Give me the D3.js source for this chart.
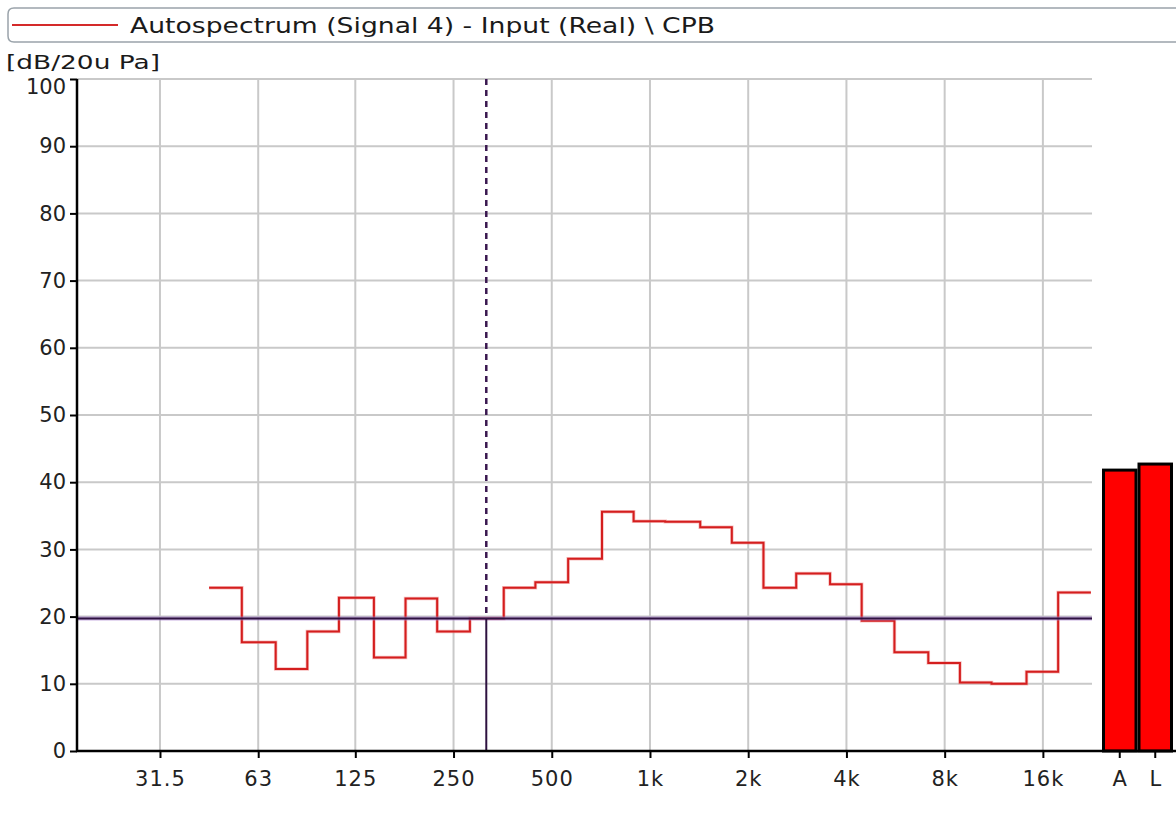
<!DOCTYPE html>
<html><head><meta charset="utf-8">
<script src="https://cdn.jsdelivr.net/npm/d3@7"></script>
<style>html,body{margin:0;padding:0;background:#fff;}svg{display:block;}</style>
</head><body>
<script>
// ---- data ----
const bandCenters = [50,63,80,100,125,160,200,250,315,400,500,630,800,1000,1250,1600,2000,2500,3150,4000,5000,6300,8000,10000,12500,16000,20000];
const levels = [24.3,16.2,12.2,17.8,22.8,13.9,22.7,17.8,19.7,24.3,25.1,28.6,35.6,34.2,34.1,33.3,31.0,24.3,26.4,24.8,19.4,14.7,13.1,10.2,10.0,11.8,23.6];
const xTickFreqs = [31.5,63,125,250,500,1000,2000,4000,8000,16000];
const xTickLabels = ["31.5","63","125","250","500","1k","2k","4k","8k","16k"];
const yTicks = [0,10,20,30,40,50,60,70,80,90,100];
const overallLabels = ["A","L"];
const overallLevels = [41.8,42.7];
const cursorFreq = 315;
const cursorLevel = 19.7;
const legendText = "Autospectrum (Signal 4) - Input (Real) \\ CPB";
const unitLabel = "[dB/20u Pa]";

// ---- layout ----
const W = 1176, H = 816;
const L = 77, R = 1092, T = 79, B = 751;
const FONT = "DejaVu Sans";

const svg = d3.select("body").append("svg").attr("width", W).attr("height", H);

const third = Math.pow(2, 1/6);
const x = d3.scaleLog().domain([1000*Math.pow(2,-17/3)/third, 1000*Math.pow(2,13/3)*third]).range([L, R]);
const y = d3.scaleLinear().domain([0,100]).range([B, T]);
const xo = d3.scaleBand().domain(overallLabels).range([1102, 1173]).paddingInner(0);

// legend box
svg.append("path")
  .attr("d", `M${W+5},8 H14 Q8,8 8,14 V36 Q8,42 14,42 H${W+5}`)
  .attr("fill", "#fff").attr("stroke", "#9aa3aa").attr("stroke-width", 1.5);
svg.append("line").attr("x1", 12).attr("x2", 118).attr("y1", 25).attr("y2", 25)
  .attr("stroke", "#d42a2a").attr("stroke-width", 2);
svg.append("text").attr("x", 130).attr("y", 33).attr("font-family", FONT).attr("font-size", 21)
  .attr("fill", "#1a1a1a").attr("textLength", 585).attr("lengthAdjust", "spacingAndGlyphs").text(legendText);

// unit label
svg.append("text").attr("x", 6).attr("y", 69).attr("font-family", FONT).attr("font-size", 20)
  .attr("fill", "#1a1a1a").attr("textLength", 154).attr("lengthAdjust", "spacingAndGlyphs").text(unitLabel);

// grid
const grid = svg.append("g");
grid.selectAll("line.h").data(yTicks.filter(d => d > 0)).join("line")
  .attr("x1", L).attr("x2", R).attr("y1", d => y(d)).attr("y2", d => y(d))
  .attr("stroke", "#c9c9c9").attr("stroke-width", 2);
grid.selectAll("line.v").data(xTickFreqs).join("line")
  .attr("x1", d => x(d)).attr("x2", d => x(d)).attr("y1", T).attr("y2", B)
  .attr("stroke", "#c9c9c9").attr("stroke-width", 2);

// spectrum step line
const pts = bandCenters.map((f, i) => [x(f / third), y(levels[i])]);
pts.push([x(bandCenters[bandCenters.length-1] * third), y(levels[levels.length-1])]);
svg.append("path").attr("d", d3.line().curve(d3.curveStepAfter)(pts))
  .attr("fill", "none").attr("stroke", "#f08080").attr("stroke-width", 3.5).attr("opacity", 0.5);
svg.append("path").attr("d", d3.line().curve(d3.curveStepAfter)(pts))
  .attr("fill", "none").attr("stroke", "#d41e1e").attr("stroke-width", 2);

// cursor
const cx = x(cursorFreq), cy = y(cursorLevel);
svg.append("line").attr("x1", L).attr("x2", R).attr("y1", cy).attr("y2", cy)
  .attr("stroke", "#a880d0").attr("stroke-width", 4).attr("opacity", 0.6);
svg.append("line").attr("x1", L).attr("x2", R).attr("y1", cy).attr("y2", cy)
  .attr("stroke", "#2e1240").attr("stroke-width", 2);
svg.append("line").attr("x1", cx).attr("x2", cx).attr("y1", cy).attr("y2", B)
  .attr("stroke", "#2e1240").attr("stroke-width", 2);
svg.append("line").attr("x1", cx).attr("x2", cx).attr("y1", T).attr("y2", cy)
  .attr("stroke", "#3a1850").attr("stroke-width", 2.5).attr("stroke-dasharray", "6,5");

// overall bars
svg.selectAll("rect.bar").data(overallLevels).join("rect")
  .attr("x", (d, i) => xo(overallLabels[i]) + 1.5)
  .attr("width", xo.bandwidth() - 3)
  .attr("y", d => y(d)).attr("height", d => B - y(d))
  .attr("fill", "#ff0000").attr("stroke", "#000").attr("stroke-width", 3);

// axes
const yAxis = svg.append("g").attr("transform", `translate(${L},0)`)
  .call(d3.axisLeft(y).tickValues(yTicks).tickSize(7).tickPadding(4));
yAxis.select(".domain").remove();
yAxis.selectAll(".tick line").attr("stroke", "#000").attr("stroke-width", 2);
yAxis.selectAll("text").attr("font-family", FONT).attr("font-size", 21).attr("fill", "#222");
yAxis.selectAll(".tick").filter(d => d === 100).select("text").attr("dy", "0.7em");
svg.append("line").attr("x1", L).attr("x2", L).attr("y1", T).attr("y2", B + 1)
  .attr("stroke", "#000").attr("stroke-width", 2.5);

const xAxis = svg.append("g").attr("transform", `translate(0,${B})`)
  .call(d3.axisBottom(x).tickValues(xTickFreqs).tickFormat((d, i) => xTickLabels[i]).tickSize(7).tickPadding(13));
xAxis.select(".domain").remove();
xAxis.selectAll(".tick line").attr("stroke", "#000").attr("stroke-width", 2);
xAxis.selectAll("text").attr("font-family", FONT).attr("font-size", 21).attr("fill", "#222").attr("letter-spacing", 1);

const oAxis = svg.append("g").attr("transform", `translate(0,${B})`)
  .call(d3.axisBottom(xo).tickSize(7).tickPadding(13));
oAxis.select(".domain").remove();
oAxis.selectAll(".tick line").attr("stroke", "#000").attr("stroke-width", 2);
oAxis.selectAll("text").attr("font-family", FONT).attr("font-size", 21).attr("fill", "#222");

svg.append("line").attr("x1", L - 1).attr("x2", W).attr("y1", B).attr("y2", B)
  .attr("stroke", "#000").attr("stroke-width", 2.5);
</script>
</body></html>
